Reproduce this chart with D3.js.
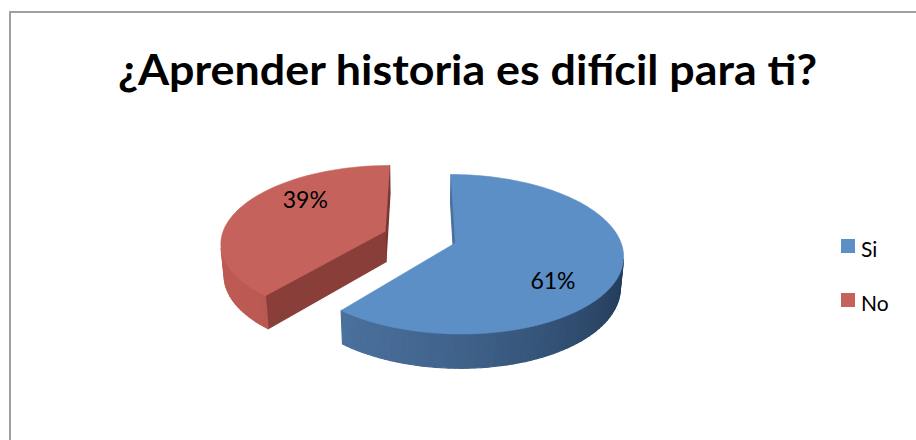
<!DOCTYPE html>
<meta charset="utf-8">
<style>
body { margin: 0; background: #fff; }
text { font-family: Lato, "DejaVu Sans", sans-serif; fill: #000; }
</style>
<body>
<script src="https://cdn.jsdelivr.net/npm/d3@7"></script>
<script>

// data
var categories = ["Si", "No"];
var values = [61, 39];
var topColors = ["#5b8fc6", "#c6625c"];
var sideDark = ["#1e3450", "#74332e"];
var sideLight = ["#4c73a0", "#bd5a54"];
var title = "¿Aprender historia es difícil para ti?";

var width = 916, height = 440;

// 3d view of the pie (radius = 1)
var tilt = 27.8 * Math.PI / 180,
    dist = 6.29,
    focal = 1031,
    thick = 0.215,
    explode = 0.227,
    ox = 420, oy = 237;

var cam = [0, Math.cos(tilt), Math.sin(tilt)],
    up = [0, -Math.sin(tilt), Math.cos(tilt)],
    camPos = cam.map(function(c) { return c * dist; }),
    light = [-0.9, 0.44];

function dot(a, b) { return a[0]*b[0] + a[1]*b[1] + (a[2]||0)*(b[2]||0); }

function project(p) {
  var depth = dist - dot(p, cam);
  return [ox + focal * p[0] / depth, oy - focal * dot(p, up) / depth, depth];
}

var svg = d3.select("body").append("svg")
    .attr("width", width)
    .attr("height", height);

// chart frame
svg.append("rect")
    .attr("x", 10).attr("y", 12)
    .attr("width", width + 20).attr("height", height + 20)
    .attr("fill", "#fff")
    .attr("stroke", "#a0a0a0")
    .attr("stroke-width", 2);

svg.append("text")
    .attr("x", 118).attr("y", 85)
    .attr("font-size", 42)
    .attr("font-weight", "bold")
    .attr("textLength", 699)
    .attr("lengthAdjust", "spacingAndGlyphs")
    .text(title);

var pie = d3.pie().sort(null).value(function(d) { return d; });
var arcs = pie(values);
var line = d3.line();
var step = Math.PI / 90;

var slices = arcs.map(function(a, i) {
  var mid = (a.startAngle + a.endAngle) / 2;
  var c = [explode * Math.sin(mid), -explode * Math.cos(mid)];
  function rim(t, z) { return [c[0] + Math.sin(t), c[1] - Math.cos(t), z]; }
  var shade = d3.interpolateRgb(sideDark[i], sideLight[i]);
  var faces = [];

  function addFace(pts, n) {
    var p = pts[0];
    var toCam = [camPos[0] - p[0], camPos[1] - p[1], camPos[2] - p[2]];
    if (dot(n, toCam) <= 0) return;
    var pp = pts.map(project);
    faces.push({
      d: line(pp.map(function(q) { return [q[0], q[1]]; })) + "Z",
      depth: d3.mean(pp, function(q) { return q[2]; }),
      fill: shade((dot(n, light) + 1) / 2)
    });
  }

  // outer wall
  var n = Math.max(2, Math.ceil((a.endAngle - a.startAngle) / step));
  for (var k = 0; k < n; k++) {
    var t0 = a.startAngle + (a.endAngle - a.startAngle) * k / n,
        t1 = a.startAngle + (a.endAngle - a.startAngle) * (k + 1) / n,
        tm = (t0 + t1) / 2;
    addFace([rim(t0, 0), rim(t1, 0), rim(t1, -thick), rim(t0, -thick)],
            [Math.sin(tm), -Math.cos(tm), 0]);
  }
  // cut walls
  var s = a.startAngle, e = a.endAngle;
  addFace([[c[0], c[1], 0], rim(s, 0), rim(s, -thick), [c[0], c[1], -thick]],
          [-Math.cos(s), -Math.sin(s), 0]);
  addFace([[c[0], c[1], 0], rim(e, 0), rim(e, -thick), [c[0], c[1], -thick]],
          [Math.cos(e), Math.sin(e), 0]);

  faces.sort(function(x, y) { return y.depth - x.depth; });

  var topPts = [[c[0], c[1], 0]];
  for (var k2 = 0; k2 <= n; k2++) {
    topPts.push(rim(s + (e - s) * k2 / n, 0));
  }

  var la = mid + 20 * Math.PI / 180, lr = 0.7;
  return {
    i: i,
    faces: faces,
    top: line(topPts.map(function(p) { var q = project(p); return [q[0], q[1]]; })) + "Z",
    depth: project([c[0], c[1], 0])[2],
    label: project([c[0] + lr * Math.sin(la), c[1] - lr * Math.cos(la), 0])
  };
});

slices.sort(function(a, b) { return b.depth - a.depth; });

var g = svg.selectAll("g.slice")
    .data(slices)
  .enter().append("g")
    .attr("class", "slice");

g.selectAll("path.side")
    .data(function(d) { return d.faces; })
  .enter().append("path")
    .attr("class", "side")
    .attr("d", function(d) { return d.d; })
    .attr("fill", function(d) { return d.fill; })
    .attr("stroke", function(d) { return d.fill; })
    .attr("stroke-width", 1.2)
    .attr("stroke-linejoin", "round");

g.append("path")
    .attr("d", function(d) { return d.top; })
    .attr("fill", function(d) { return topColors[d.i]; })
    .attr("stroke", function(d) { return topColors[d.i]; })
    .attr("stroke-width", 0.6);

var total = d3.sum(values);
var pct = d3.format(".0%");

svg.selectAll("text.pct")
    .data(slices)
  .enter().append("text")
    .attr("class", "pct")
    .attr("x", function(d) { return d.label[0]; })
    .attr("y", function(d) { return d.label[1]; })
    .attr("dy", "0.36em")
    .attr("text-anchor", "middle")
    .attr("font-size", 23)
    .text(function(d) { return pct(values[d.i] / total); });

// legend
var legend = svg.selectAll("g.legend")
    .data(categories)
  .enter().append("g")
    .attr("class", "legend")
    .attr("transform", function(d, i) { return "translate(841," + (239 + i * 54) + ")"; });

legend.append("rect")
    .attr("width", 14).attr("height", 14)
    .attr("fill", function(d, i) { return topColors[i]; });

legend.append("text")
    .attr("x", 20).attr("y", 17.5)
    .attr("font-size", 21)
    .text(function(d) { return d; });

</script>
</body>
